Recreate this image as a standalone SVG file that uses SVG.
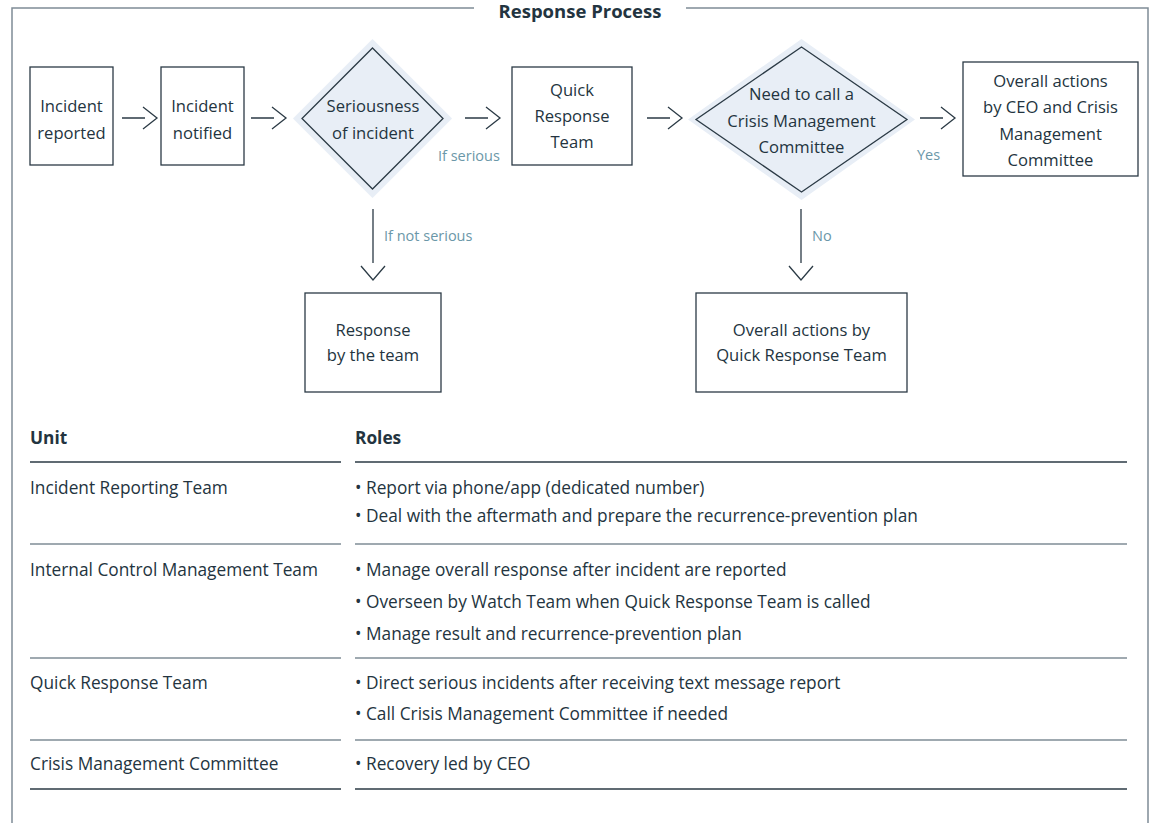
<svg xmlns="http://www.w3.org/2000/svg" width="1156" height="823" viewBox="0 0 1156 823">
<style>
text{font-family:"Open Sans","Noto Sans","Liberation Sans",sans-serif;fill:#233440;}
.n{font-size:16.6px;text-anchor:middle;}
.lbl{font-size:14.5px;fill:#6b97a8;}
.t{font-size:17.3px;}
.b{font-weight:bold;}
.box{fill:#fff;stroke:#2b3a45;stroke-width:1.3;}
.halo{fill:#e8eef6;stroke:none;}
.dia{fill:#e8eef6;stroke:#2b3a45;stroke-width:1.3;}
.ln{fill:none;stroke:#2b3a45;stroke-width:1.3;}
.frame{fill:none;stroke:#7f8c96;stroke-width:1.5;}
.hd{stroke:#2b3a45;stroke-width:1.5;}
.rw{stroke:#7f8c96;stroke-width:1.5;}
</style>
<rect width="1156" height="823" fill="#fff"/>
<path class="frame" d="M474,8 H12 V830 M686,8 H1148 V830"/>
<text x="580" y="18" class="b" text-anchor="middle" font-size="18.5">Response Process</text>

<g id="connectors">
<path class="ln" d="M122,118 H145 M143,107 L157,118 L143,129"/>
<path class="ln" d="M251,118 H274 M272,107 L286,118 L272,129"/>
<path class="ln" d="M465,118 H488 M486,107 L500,118 L486,129"/>
<path class="ln" d="M647,118 H670 M668,107 L682,118 L668,129"/>
<path class="ln" d="M920,118 H943 M941,107 L955,118 L941,129"/>
<path class="ln" d="M373,209 V263 M361,266 L373,280 L385,266"/>
<path class="ln" d="M801,209 V263 M789,266 L801,280 L813,266"/>
<text x="438" y="161" class="lbl">If serious</text>
<text x="384" y="241" class="lbl">If not serious</text>
<text x="917" y="160" class="lbl">Yes</text>
<text x="812" y="241" class="lbl">No</text>
</g>

<g id="n1">
<rect class="box" x="30" y="67" width="83" height="98"/>
<text class="n" x="71.5" y="112">Incident</text>
<text class="n" x="71.5" y="139">reported</text>
</g>
<g id="n2">
<rect class="box" x="161" y="67" width="83" height="98"/>
<text class="n" x="202.5" y="112">Incident</text>
<text class="n" x="202.5" y="139">notified</text>
</g>
<g id="d1">
<polygon class="halo" points="372.5,39 452,118.5 372.5,198 293,118.5"/>
<polygon class="dia" points="372.5,48 443,118.5 372.5,189 302,118.5"/>
<text class="n" x="373" y="112">Seriousness</text>
<text class="n" x="373" y="139">of incident</text>
</g>
<g id="n3">
<rect class="box" x="512" y="67" width="120" height="98"/>
<text class="n" x="572" y="96">Quick</text>
<text class="n" x="572" y="122">Response</text>
<text class="n" x="572" y="148">Team</text>
</g>
<g id="d2">
<polygon class="halo" points="801.5,39 915,119.5 801.5,200 688,119.5"/>
<polygon class="dia" points="801.5,47 907,119.5 801.5,192 696,119.5"/>
<text class="n" x="801.5" y="100">Need to call a</text>
<text class="n" x="801.5" y="127">Crisis Management</text>
<text class="n" x="801.5" y="153">Committee</text>
</g>
<g id="n4">
<rect class="box" x="963" y="62" width="175" height="114"/>
<text class="n" x="1050.5" y="87">Overall actions</text>
<text class="n" x="1050.5" y="113">by CEO and Crisis</text>
<text class="n" x="1050.5" y="140">Management</text>
<text class="n" x="1050.5" y="166">Committee</text>
</g>
<g id="n5">
<rect class="box" x="305" y="293" width="136" height="99"/>
<text class="n" x="373" y="336">Response</text>
<text class="n" x="373" y="361">by the team</text>
</g>
<g id="n6">
<rect class="box" x="696" y="293" width="211" height="99"/>
<text class="n" x="801.5" y="336">Overall actions by</text>
<text class="n" x="801.5" y="361">Quick Response Team</text>
</g>

<g id="table">
<text class="t b" x="30" y="444" font-size="15.5">Unit</text>
<text class="t b" x="355" y="444" font-size="15.5">Roles</text>
<line class="hd" x1="30" y1="462" x2="341" y2="462"/>
<line class="hd" x1="355" y1="462" x2="1127" y2="462"/>

<text class="t" x="30" y="494">Incident Reporting Team</text>
<text class="t" x="355" y="494">• Report via phone/app (dedicated number)</text>
<text class="t" x="355" y="522">• Deal with the aftermath and prepare the recurrence-prevention plan</text>
<line class="rw" x1="30" y1="544" x2="341" y2="544"/>
<line class="rw" x1="355" y1="544" x2="1127" y2="544"/>

<text class="t" x="30" y="576">Internal Control Management Team</text>
<text class="t" x="355" y="576">• Manage overall response after incident are reported</text>
<text class="t" x="355" y="608">• Overseen by Watch Team when Quick Response Team is called</text>
<text class="t" x="355" y="640">• Manage result and recurrence-prevention plan</text>
<line class="rw" x1="30" y1="658" x2="341" y2="658"/>
<line class="rw" x1="355" y1="658" x2="1127" y2="658"/>

<text class="t" x="30" y="689">Quick Response Team</text>
<text class="t" x="355" y="689">• Direct serious incidents after receiving text message report</text>
<text class="t" x="355" y="720">• Call Crisis Management Committee if needed</text>
<line class="rw" x1="30" y1="740" x2="341" y2="740"/>
<line class="rw" x1="355" y1="740" x2="1127" y2="740"/>

<text class="t" x="30" y="770">Crisis Management Committee</text>
<text class="t" x="355" y="770">• Recovery led by CEO</text>
<line class="hd" x1="30" y1="789" x2="341" y2="789"/>
<line class="hd" x1="355" y1="789" x2="1127" y2="789"/>
</g>
</svg>
